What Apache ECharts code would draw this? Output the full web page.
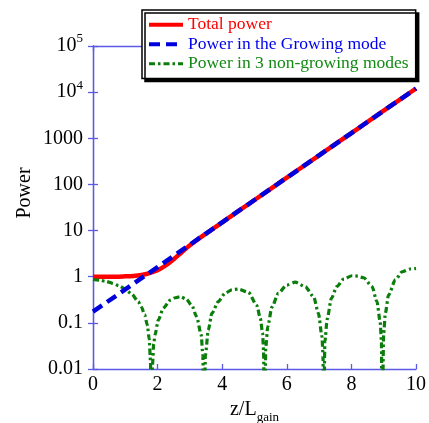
<!DOCTYPE html>
<html><head><meta charset="utf-8">
<script src="https://cdn.jsdelivr.net/npm/echarts@6/dist/echarts.min.js"></script>
<style>html,body{margin:0;padding:0;background:#fff}#c{width:429px;height:423px}</style>
</head><body><div id="c"></div>
<script>
// ---- data ----
const zTotal = [0, 0.5, 1, 1.25, 1.5, 1.75, 2, 2.25, 2.5, 2.75, 3, 3.5, 4, 5, 6, 7, 8, 9, 10];
const totalPower = [1.0, 1.0, 1.02, 1.04, 1.09, 1.2, 1.38, 1.75, 2.4, 3.4, 4.8, 8.6, 15, 46, 140, 427, 1300, 3960, 12000];

const zGrowing = [0, 1, 2, 3, 4, 5, 6, 7, 8, 9, 10];
const growingPower = [0.175, 0.53, 1.62, 4.95, 15.1, 46, 140, 427, 1300, 3960, 12000];

const zNonGrowing = [0, 0.2, 0.4, 0.6, 0.8, 1.0, 1.2, 1.4, 1.5, 1.6, 1.68, 1.74, 1.78, 1.8,
  1.84, 1.88, 1.92, 2.02, 2.18, 2.39, 2.55, 2.7, 2.88, 3.06, 3.21, 3.35, 3.4, 3.44,
  3.48, 3.57, 3.68, 3.88, 4.09, 4.3, 4.5, 4.81, 5.07, 5.18, 5.25, 5.28, 5.31,
  5.35, 5.41, 5.54, 5.74, 6.0, 6.26, 6.57, 6.83, 6.98, 7.09, 7.12, 7.14,
  7.18, 7.25, 7.38, 7.55, 7.76, 8.02, 8.2, 8.38, 8.64, 8.79, 8.89, 8.93, 8.95,
  9.0, 9.05, 9.15, 9.36, 9.57, 9.82, 10];
const nonGrowingPower = [0.87, 0.84, 0.79, 0.72, 0.64, 0.54, 0.42, 0.29, 0.22, 0.15, 0.09, 0.045, 0.015, 0.0005,
  0.012, 0.035, 0.055, 0.115, 0.21, 0.31, 0.35, 0.37, 0.33, 0.24, 0.135, 0.055, 0.02, 0.0005,
  0.02, 0.07, 0.16, 0.29, 0.44, 0.52, 0.54, 0.46, 0.24, 0.126, 0.06, 0.025, 0.0005,
  0.03, 0.083, 0.22, 0.44, 0.66, 0.76, 0.61, 0.37, 0.16, 0.05, 0.02, 0.0005,
  0.04, 0.12, 0.34, 0.61, 0.89, 1.05, 1.03, 0.95, 0.61, 0.29, 0.106, 0.04, 0.0005,
  0.06, 0.16, 0.40, 0.85, 1.28, 1.47, 1.52];

const seriesNames = ['Total power', 'Power in the Growing mode', 'Power in 3 non-growing modes'];
const xTicks = [0, 2, 4, 6, 8, 10];
const yTickExponents = [-2, -1, 0, 1, 2, 3, 4, 5];
const yTickLabels = ['0.01', '0.1', '1', '10', '100', '1000', '{n|10}{s|4}', '{n|10}{s|5}'];

// ---- chart ----
const FONT = 'Liberation Serif';
const AX = '#5a5ae6';
const pairs = (xs, ys) => xs.map((x, i) => [x, ys[i]]);

const chart = echarts.init(document.getElementById('c'), null, {renderer: 'canvas'});
const common = {
  axisLine: {show: true, lineStyle: {color: AX, width: 1.3}},
  axisTick: {show: true, inside: true, length: 5, lineStyle: {color: AX, width: 1.3}},
  splitLine: {show: false},
  minorTick: {show: false},
  nameMoveOverlap: false
};
chart.setOption({
  animation: false,
  backgroundColor: '#fff',
  grid: {left: 93, right: 13, top: 46, bottom: 54, containLabel: false, outerBoundsMode: 'none'},
  legend: {
    orient: 'vertical',
    left: 142, top: 10,
    padding: [5, 7, 5, 5],
    itemWidth: 34, itemHeight: 19.5, itemGap: 0,
    backgroundColor: '#fff',
    borderColor: '#000', borderWidth: 1.5,
    shadowColor: '#000', shadowBlur: 0, shadowOffsetX: 3, shadowOffsetY: 3,
    itemStyle: {opacity: 0},
    textStyle: {fontFamily: FONT, fontSize: 17.5, lineHeight: 19.5},
    data: [
      {name: seriesNames[0], textStyle: {color: '#ff0000'}, lineStyle: {width: 4}},
      {name: seriesNames[1], textStyle: {color: '#0000ee'}, lineStyle: {width: 4}},
      {name: seriesNames[2], textStyle: {color: '#138a13'}, lineStyle: {width: 3}}
    ]
  },
  xAxis: [
    Object.assign({}, common, {
      type: 'value', min: xTicks[0], max: xTicks[xTicks.length - 1], interval: 2,
      position: 'bottom',
      axisLabel: {fontFamily: FONT, fontSize: 20, color: '#000', margin: 6},
      name: '{a|z/L}{b|gain}', nameLocation: 'middle', nameGap: 26,
      nameTextStyle: {
        rich: {
          a: {fontFamily: FONT, fontSize: 20, color: '#000'},
          b: {fontFamily: FONT, fontSize: 13, color: '#000', padding: [16, 0, 0, 0]}
        }
      }
    }),
    Object.assign({}, common, {
      type: 'value', min: 0, max: 10, interval: 2, position: 'top',
      axisLabel: {show: false}
    })
  ],
  yAxis: [
    Object.assign({}, common, {
      type: 'log', logBase: 10, min: 0.01, max: 100000, interval: 1,
      position: 'left',
      axisLabel: {
        fontFamily: FONT, fontSize: 20, color: '#000', margin: 10,
        formatter: v => {
          const e = Math.round(Math.log10(v));
          const i = yTickExponents.indexOf(e);
          return i >= 0 ? yTickLabels[i] : '';
        },
        rich: {
          n: {fontFamily: FONT, fontSize: 20, color: '#000'},
          s: {fontFamily: FONT, fontSize: 13, color: '#000', padding: [0, 0, 14, 0]}
        }
      },
      name: 'Power', nameLocation: 'middle', nameGap: 58, nameRotate: 90,
      nameTextStyle: {fontFamily: FONT, fontSize: 20, color: '#000', padding: [0, 0, 0, 29]}
    }),
    Object.assign({}, common, {
      type: 'log', logBase: 10, min: 0.01, max: 100000, interval: 1,
      position: 'right',
      axisLabel: {show: false}
    })
  ],
  series: [
    {
      name: seriesNames[0], type: 'line', xAxisIndex: 0, yAxisIndex: 0,
      data: pairs(zTotal, totalPower), showSymbol: false, symbol: 'none', smooth: 0.3,
      lineStyle: {color: '#ff0000', width: 4.5}, itemStyle: {color: '#ff0000'}, z: 2
    },
    {
      name: seriesNames[1], type: 'line', xAxisIndex: 0, yAxisIndex: 0,
      data: pairs(zGrowing, growingPower), showSymbol: false, symbol: 'none',
      lineStyle: {color: '#0000dd', width: 4.5, type: [11, 6], cap: 'butt'}, itemStyle: {color: '#0000dd'}, z: 3
    },
    {
      name: seriesNames[2], type: 'line', xAxisIndex: 0, yAxisIndex: 0,
      data: pairs(zNonGrowing, nonGrowingPower), showSymbol: false, symbol: 'none', smooth: 0.25,
      smoothMonotone: 'x', clip: true,
      lineStyle: {color: '#0a7d0a', width: 3.2, type: [6, 3, 2.5, 3]}, itemStyle: {color: '#0a7d0a'}, z: 2
    }
  ]
});
</script>
</body></html>
